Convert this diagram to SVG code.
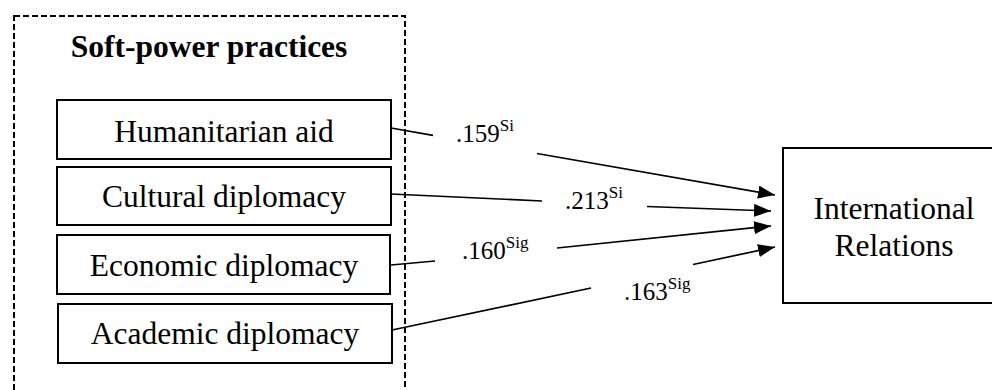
<svg xmlns="http://www.w3.org/2000/svg" width="992" height="390" viewBox="0 0 992 390">
  <style>
    .box { fill: #fff; stroke: #000; stroke-width: 2; }
    .group { fill: none; stroke: #000; stroke-width: 2; stroke-dasharray: 6 3; }
    .lbl { font-family: "Liberation Serif", "Times New Roman", serif; font-size: 31.5px; fill: #000; }
    .title { font-family: "Liberation Serif", "Times New Roman", serif; font-size: 31.5px; font-weight: bold; fill: #000; }
    .coef { font-family: "Liberation Serif", "Times New Roman", serif; font-size: 25px; fill: #000; }
    .sup { font-family: "Liberation Serif", "Times New Roman", serif; font-size: 17px; }
    .edge { fill: none; stroke: #000; stroke-width: 1.7; }
  </style>
  <defs>
    <marker id="arrow" viewBox="0 0 10 10" refX="10" refY="5" markerWidth="17" markerHeight="13" markerUnits="userSpaceOnUse" orient="auto" preserveAspectRatio="none">
      <path d="M0,0 L10,5 L0,10 z" fill="#000"/>
    </marker>
  </defs>
  <rect width="992" height="390" fill="#fff"/>

  <!-- dashed grouping frame -->
  <g id="soft-power-group">
    <rect class="group" x="14" y="16" width="391" height="390"/>
    <text class="title" x="209" y="57" text-anchor="middle">Soft-power practices</text>
  </g>

  <g id="humanitarian-aid">
    <rect class="box" x="57" y="100" width="334" height="59"/>
    <text class="lbl" x="224" y="142" text-anchor="middle">Humanitarian aid</text>
  </g>
  <g id="cultural-diplomacy">
    <rect class="box" x="57" y="167" width="334" height="58"/>
    <text class="lbl" x="224" y="207" text-anchor="middle">Cultural diplomacy</text>
  </g>
  <g id="economic-diplomacy">
    <rect class="box" x="57" y="235" width="333" height="59"/>
    <text class="lbl" x="224" y="276" text-anchor="middle">Economic diplomacy</text>
  </g>
  <g id="academic-diplomacy">
    <rect class="box" x="58" y="304" width="334" height="59"/>
    <text class="lbl" x="225" y="344" text-anchor="middle">Academic diplomacy</text>
  </g>

  <g id="international-relations">
    <rect class="box" x="783" y="148" width="215" height="155"/>
    <text class="lbl" x="894" y="219" text-anchor="middle">International</text>
    <text class="lbl" x="894" y="256" text-anchor="middle">Relations</text>
  </g>

  <!-- paths, each broken around its coefficient -->
  <g id="connectors">
    <path class="edge" d="M391,128 L433,135.3"/>
    <path class="edge" d="M537,153.5 L775,195" marker-end="url(#arrow)"/>

    <path class="edge" d="M391,194 L542,201"/>
    <path class="edge" d="M647,206.5 L771,211" marker-end="url(#arrow)"/>

    <path class="edge" d="M391,265 L435,261"/>
    <path class="edge" d="M557,248 L771,226" marker-end="url(#arrow)"/>

    <path class="edge" d="M392,330 L591,288"/>
    <path class="edge" d="M693,264.5 L775,247" marker-end="url(#arrow)"/>

    <text class="coef" x="456" y="142">.159<tspan class="sup" dy="-11">Si</tspan></text>
    <text class="coef" x="565" y="209">.213<tspan class="sup" dy="-11">Si</tspan></text>
    <text class="coef" x="462" y="259">.160<tspan class="sup" dy="-11">Sig</tspan></text>
    <text class="coef" x="624" y="300">.163<tspan class="sup" dy="-11">Sig</tspan></text>
  </g>
</svg>
